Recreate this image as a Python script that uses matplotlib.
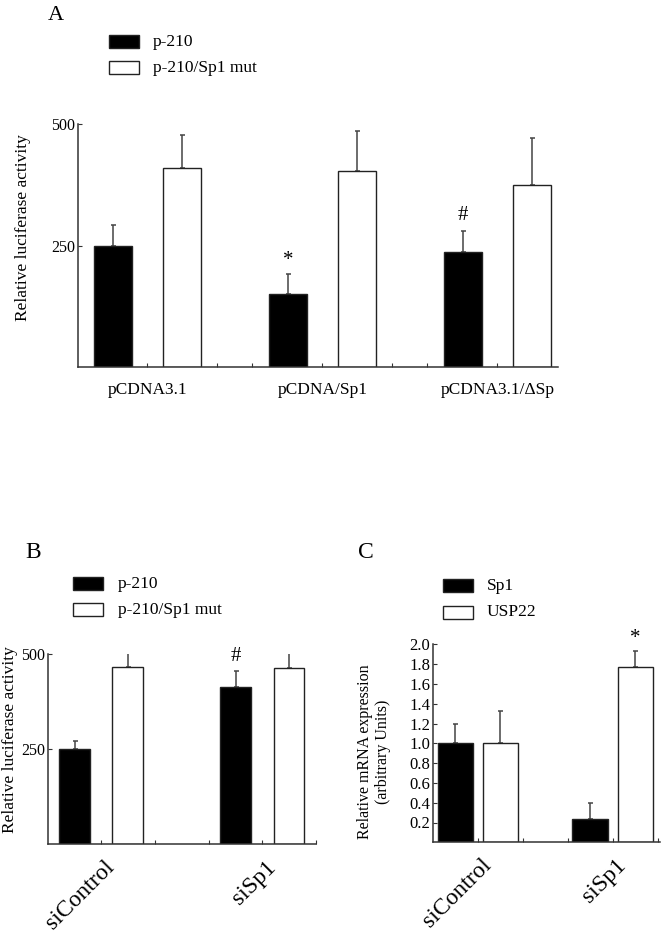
import matplotlib
matplotlib.use("Agg")
import matplotlib.pyplot as plt
from matplotlib.patches import Rectangle
from matplotlib.transforms import ScaledTranslation
import numpy as np

plt.rcParams['font.family'] = ['Liberation Serif', 'DejaVu Serif']

# ---- Data ----
a_categories = ["pCDNA3.1", "pCDNA/Sp1", "pCDNA3.1/\u0394Sp"]
a_p210 = [250, 150, 236]
a_p210_err = [42, 41, 43]
a_mut = [409, 404, 375]
a_mut_err = [69, 81, 97]
a_series = ["p-210", "p-210/Sp1 mut"]

b_categories = ["siControl", "siSp1"]
b_p210 = [250, 412]
b_p210_err = [22, 44]
b_mut = [467, 462]
b_mut_err = [43, 42]
b_series = ["p-210", "p-210/Sp1 mut"]

c_categories = ["siControl", "siSp1"]
c_sp1 = [1.0, 0.24]
c_sp1_err = [0.20, 0.155]
c_usp22 = [1.0, 1.775]
c_usp22_err = [0.33, 0.16]
c_series = ["Sp1", "USP22"]

W, H = 664, 932
fig = plt.figure(figsize=(W / 100, H / 100), dpi=100)


def ax_px(x0, x1, ytop, ybot):
    return fig.add_axes([x0 / W, 1 - ybot / H, (x1 - x0) / W, (ybot - ytop) / H])


EDGE = "#222222"
ERRC = "#444444"


def style(ax):
    for s in ("top", "right"):
        ax.spines[s].set_visible(False)
    for s in ("left", "bottom"):
        ax.spines[s].set_color("#333333")
        ax.spines[s].set_linewidth(1.1)
    ax.tick_params(direction="in", length=3, width=0.8, colors="#333333",
                   labelcolor="black")


def bars(ax, x, vals, errs, fill, width):
    ax.bar(x, vals, width=width, color=fill, edgecolor=EDGE, linewidth=1.0, zorder=2)
    ax.errorbar(x, vals, yerr=[np.zeros(len(vals)), errs], fmt="none",
                ecolor=ERRC, elinewidth=1.1, capsize=1.8, capthick=1.1, zorder=1)


def legend(x0, ytop1, ytop2, labels, tx):
    for yt, fc, lab in ((ytop1, "black", labels[0]), (ytop2, "white", labels[1])):
        fig.patches.append(Rectangle((x0 / W, 1 - (yt + 12.5) / H), 30 / W, 12.5 / H,
                                     transform=fig.transFigure, facecolor=fc,
                                     edgecolor=EDGE, linewidth=1.0))
        fig.text(tx / W, 1 - (yt + 6.5) / H, lab, fontsize=12.5, ha="left", va="center")


# ---------------- Panel A ----------------
axA = ax_px(78, 558, 124, 367)
style(axA)
xa = np.arange(len(a_categories))
bars(axA, xa - 0.197, a_p210, a_p210_err, "black", 0.217)
bars(axA, xa + 0.197, a_mut, a_mut_err, "white", 0.217)
axA.set_xlim(-0.397, 2.346)
axA.set_ylim(0, 500)
axA.set_yticks([250, 500])
axA.set_yticklabels(["250", "500"], fontsize=11.5)
axA.set_xticks([0, 0.4, 0.6, 1.0, 1.4, 1.6, 2.0])
axA.set_xticklabels([a_categories[0], "", "", a_categories[1], "", "", a_categories[2]],
                    fontsize=12.5)
axA.tick_params(axis="x", pad=11)
axA.tick_params(axis="y", pad=2)
axA.text(xa[1] - 0.197, 220, "*", ha="center", va="center", fontsize=15)
axA.text(xa[2] - 0.197, 312, "#", ha="center", va="center", fontsize=15)
fig.text(23 / W, 1 - 228 / H, "Relative luciferase activity", rotation=90,
         ha="center", va="center", fontsize=12.5)
fig.text(48 / W, 1 - 15 / H, "A", fontsize=16, ha="left", va="center")
legend(109, 35, 61, a_series, 153)

# ---------------- Panel B ----------------
axB = ax_px(47.7, 316, 654, 844.3)
style(axB)
xb = np.arange(len(b_categories))
bars(axB, xb - 0.165, b_p210, b_p210_err, "black", 0.19)
bars(axB, xb + 0.165, b_mut, b_mut_err, "white", 0.19)
axB.set_xlim(-0.332, 1.33)
axB.set_ylim(0, 500)
axB.set_yticks([250, 500])
axB.set_yticklabels(["250", "500"], fontsize=11.5)
axB.set_xticks([0, 1 / 3, 2 / 3, 1.0, 4 / 3])
axB.set_xticklabels([b_categories[0], "", "", b_categories[1], ""], fontsize=17,
                    rotation=45, ha="right", rotation_mode="anchor")
axB.tick_params(axis="x", pad=9)
axB.tick_params(axis="y", pad=2)
axB.text(xb[1] - 0.165, 493, "#", ha="center", va="center", fontsize=15)
fig.text(10 / W, 1 - 740 / H, "Relative luciferase activity", rotation=90,
         ha="center", va="center", fontsize=12.5)
fig.text(25 / W, 1 - 552 / H, "B", fontsize=17, ha="left", va="center")
legend(73, 577, 603, b_series, 118)

# ---------------- Panel C ----------------
axC = ax_px(433, 660, 644.3, 842.3)
style(axC)
xc = np.arange(len(c_categories))
bars(axC, xc - 0.167, c_sp1, c_sp1_err, "black", 0.264)
bars(axC, xc + 0.167, c_usp22, c_usp22_err, "white", 0.264)
axC.set_xlim(-0.333, 1.35)
axC.set_ylim(0, 2.0)
cticks = np.round(np.arange(0.2, 2.01, 0.2), 1)
axC.set_yticks(cticks)
axC.set_yticklabels([f"{t:.1f}" for t in cticks], fontsize=12)
axC.set_xticks([0, 1 / 3, 2 / 3, 1.0, 4 / 3])
axC.set_xticklabels([c_categories[0], "", "", c_categories[1], ""], fontsize=17,
                    rotation=45, ha="right", rotation_mode="anchor")
axC.tick_params(axis="x", pad=9)
axC.tick_params(axis="y", pad=2)
axC.text(xc[1] + 0.167, 2.06, "*", ha="center", va="center", fontsize=15)
fig.text(374 / W, 1 - 752 / H, "Relative mRNA expression\n(arbitrary Units)", rotation=90,
         ha="center", va="center", fontsize=11.5, linespacing=1.1)
fig.text(358 / W, 1 - 553 / H, "C", fontsize=17, ha="left", va="center")
legend(443, 579, 606, c_series, 487)

for ax in (axB, axC):
    for lab in ax.get_xticklabels():
        lab.set_transform(lab.get_transform() + ScaledTranslation(0.03, 0, fig.dpi_scale_trans))

fig.savefig("out.png", dpi=100)
